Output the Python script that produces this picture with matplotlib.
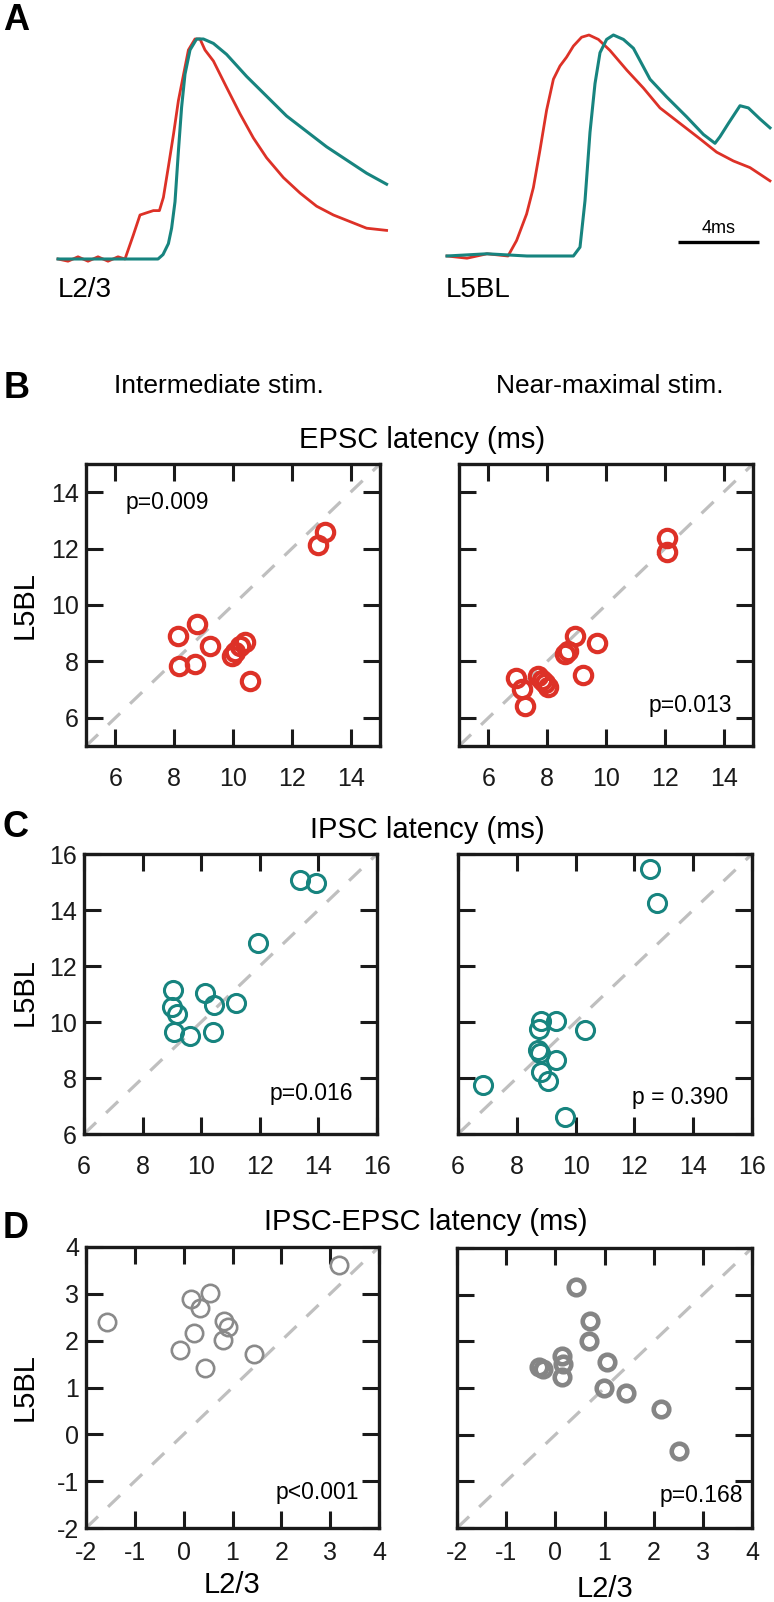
import matplotlib
matplotlib.use("Agg")
import matplotlib.pyplot as plt

plt.rcParams['font.family'] = ['Liberation Sans', 'DejaVu Sans']
plt.rcParams['lines.scale_dashes'] = False

W, H = 774, 1602

RED = '#DD3127'
TEAL = '#17847F'
GREY = '#8A8A8A'
DASH = '#BFBFBF'

# ---------------- Panel A traces (time in ms, normalised amplitude) ----------------
l23_red_t = [0, 0.5, 1.0, 1.5, 2.0, 2.5, 3.0, 3.35, 3.77, 4.1, 4.43, 4.77, 5.07, 5.27, 5.52, 5.78, 6.02, 6.28, 6.52,
             6.85, 7.1, 7.35, 7.77, 8.43, 9.1, 9.77, 10.43, 11.27, 12.1, 12.93, 13.77, 14.6, 15.43, 16.43]
l23_red_a = [0, -0.01, 0.01, -0.01, 0.01, -0.01, 0.01, 0, 0.11, 0.20, 0.21, 0.22, 0.22, 0.28, 0.42, 0.57, 0.72, 0.84, 0.95,
             1.0, 1.0, 0.95, 0.90, 0.78, 0.66, 0.55, 0.46, 0.37, 0.30, 0.24, 0.20, 0.17, 0.14, 0.13]
l23_teal_t = [0, 5.0, 5.25, 5.52, 5.68, 5.85, 6.02, 6.18, 6.35, 6.6, 6.93, 7.27, 7.77, 8.43, 9.43, 10.43, 11.43,
              12.43, 13.43, 14.43, 15.43, 16.43]
l23_teal_a = [0, 0, 0.02, 0.07, 0.14, 0.26, 0.49, 0.69, 0.84, 0.95, 1.0, 1.0, 0.98, 0.93, 0.83, 0.74, 0.65,
              0.58, 0.51, 0.45, 0.39, 0.34]

l5_red_t = [0, 1.0, 2.0, 3.05, 3.48, 3.98, 4.32, 4.65, 4.98, 5.32, 5.65, 5.98, 6.32, 6.73, 7.1, 7.57, 8.15, 9.0,
            9.82, 10.65, 11.65, 12.65, 13.48, 14.32, 15.15, 16.15]
l5_red_a = [0, -0.01, 0.01, 0, 0.07, 0.19, 0.31, 0.48, 0.66, 0.80, 0.86, 0.90, 0.95, 0.99, 1.0, 0.98, 0.93, 0.84,
            0.76, 0.67, 0.60, 0.53, 0.47, 0.43, 0.40, 0.34]
l5_teal_t = [0, 2.0, 4.0, 6.32, 6.65, 6.9, 7.15, 7.4, 7.65, 7.98, 8.32, 8.82, 9.32, 10.15, 10.98, 11.98, 12.82,
             13.4, 13.65, 14.07, 14.65, 15.07, 15.65, 16.15]
l5_teal_a = [0, 0.01, 0, 0, 0.04, 0.25, 0.56, 0.78, 0.92, 0.98, 1.0, 0.98, 0.94, 0.80, 0.72, 0.63, 0.55,
             0.51, 0.54, 0.60, 0.68, 0.67, 0.62, 0.58]

# ---------------- Scatter data ----------------
epsc_int_l23 = [8.13, 8.77, 8.16, 8.71, 9.22, 9.97, 10.07, 10.24, 10.41, 10.58, 12.90, 13.13]
epsc_int_l5 = [8.89, 9.31, 7.83, 7.90, 8.53, 8.18, 8.35, 8.55, 8.70, 7.30, 12.14, 12.60]
epsc_max_l23 = [6.94, 7.14, 7.24, 7.69, 7.82, 7.92, 8.02, 8.62, 8.72, 8.95, 9.22, 9.69, 12.07, 12.07]
epsc_max_l5 = [7.40, 7.01, 6.41, 7.47, 7.35, 7.22, 7.10, 8.25, 8.36, 8.89, 7.51, 8.67, 12.38, 11.89]

ipsc_int_l23 = [13.38, 13.92, 11.95, 9.04, 9.02, 9.16, 9.08, 9.61, 10.13, 10.44, 10.39, 11.18]
ipsc_int_l5 = [15.08, 14.96, 12.82, 11.15, 10.53, 10.29, 9.66, 9.50, 11.03, 10.59, 9.66, 10.67]
ipsc_max_l23 = [12.53, 12.76, 8.84, 9.35, 8.76, 10.32, 8.73, 8.78, 9.35, 8.84, 9.07, 6.85, 9.64]
ipsc_max_l5 = [15.48, 14.25, 10.02, 10.05, 9.74, 9.72, 9.00, 8.91, 8.65, 8.23, 7.91, 7.75, 6.62]

diff_int_l23 = [-1.56, -0.08, 0.21, 0.43, 0.80, 0.83, 0.90, 1.44, 0.15, 0.33, 0.53, 3.18]
diff_int_l5 = [2.39, 1.80, 2.17, 1.42, 2.01, 2.43, 2.30, 1.71, 2.88, 2.70, 3.02, 3.62]
diff_max_l23 = [0.71, 0.69, 1.05, 0.99, 1.43, 2.15, 2.51, -0.34, -0.26, 0.13, 0.15, 0.13, 0.42]
diff_max_l5 = [2.43, 2.01, 1.55, 1.01, 0.89, 0.55, -0.36, 1.44, 1.41, 1.69, 1.51, 1.23, 3.17]

epsc_ticks = [6, 8, 10, 12, 14]
ipsc_ticks = [6, 8, 10, 12, 14, 16]
diff_ticks = [-2, -1, 0, 1, 2, 3, 4]

fig = plt.figure(figsize=(W / 100, H / 100), dpi=100)


def rect(x0, y0, x1, y1):
    return [x0 / W, 1 - y1 / H, (x1 - x0) / W, (y1 - y0) / H]


def ft(x, y, s, **kw):
    fig.text(x / W, 1 - y / H, s, **kw)


# ---- Panel A ----
axA1 = fig.add_axes(rect(58, 39, 387, 259))
axA1.set_xlim(0, 16.45); axA1.set_ylim(0, 1); axA1.axis('off')
axA1.plot(l23_red_t, l23_red_a, color=RED, lw=2.0, clip_on=False, solid_joinstyle='round')
axA1.plot(l23_teal_t, l23_teal_a, color=TEAL, lw=2.2, clip_on=False, solid_joinstyle='round')

axA2 = fig.add_axes(rect(447, 35, 770, 256))
axA2.set_xlim(0, 16.15); axA2.set_ylim(0, 1); axA2.axis('off')
axA2.plot(l5_red_t, l5_red_a, color=RED, lw=2.0, clip_on=False, solid_joinstyle='round')
axA2.plot(l5_teal_t, l5_teal_a, color=TEAL, lw=2.2, clip_on=False, solid_joinstyle='round')
axA2.plot([11.55, 15.6], [0.063, 0.063], color='black', lw=2.4, clip_on=False, solid_capstyle='butt')
axA2.text((11.55 + 15.6) / 2, 0.085, '4ms', ha='center', va='bottom', fontsize=13)

ft(3, 30, 'A', fontsize=26, fontweight='bold', ha='left', va='baseline')
ft(58, 297, 'L2/3', fontsize=20, ha='left', va='baseline')
ft(446, 297, 'L5BL', fontsize=20, ha='left', va='baseline')

# ---- Scatter panels ----


def scatter_panel(r, lim, ticks, xs, ys, color, ms, mew, ptxt, ppos, pha, ylabels, xpad):
    ax = fig.add_axes(rect(*r))
    ax.plot(lim, lim, color=DASH, lw=2.3, dashes=(12, 10), zorder=1, solid_capstyle='butt',
            dash_capstyle='butt')
    ax.plot(xs, ys, 'o', mfc='none', mec=color, ms=ms, mew=mew, zorder=3, clip_on=False)
    ax.set_xlim(lim); ax.set_ylim(lim)
    ax.set_xticks(ticks); ax.set_yticks(ticks)
    ax.set_xticklabels([str(t) for t in ticks])
    ax.set_yticklabels([str(t) for t in ticks])
    ax.tick_params(direction='in', length=12.5, width=2.2, top=True, right=True,
                   labelsize=18, colors='#1a1a1a')
    ax.tick_params(axis='x', pad=xpad)
    ax.tick_params(axis='y', pad=5, labelleft=ylabels)
    for s in ax.spines.values():
        s.set_linewidth(2.4)
        s.set_color('#1a1a1a')
    ax.text(ppos[0], ppos[1], ptxt, transform=ax.transAxes, ha=pha, va='center', fontsize=16.5)
    return ax


scatter_panel((86, 464, 380, 746), (5, 15), epsc_ticks, epsc_int_l23, epsc_int_l5, RED, 12.5, 3.0,
              'p=0.009', (0.133, 0.862), 'left', True, 15)
scatter_panel((459, 464, 753, 746), (5, 15), epsc_ticks, epsc_max_l23, epsc_max_l5, RED, 12.5, 3.0,
              'p=0.013', (0.929, 0.142), 'right', False, 15)
scatter_panel((84, 854, 377, 1134), (6, 16), ipsc_ticks, ipsc_int_l23, ipsc_int_l5, TEAL, 13.0, 2.2,
              'p=0.016', (0.918, 0.146), 'right', True, 15)
scatter_panel((458, 854, 752, 1134), (6, 16), ipsc_ticks, ipsc_max_l23, ipsc_max_l5, TEAL, 13.0, 2.2,
              'p = 0.390', (0.918, 0.132), 'right', False, 15)
scatter_panel((86, 1247, 379, 1528), (-2, 4), diff_ticks, diff_int_l23, diff_int_l5, GREY, 12.5, 1.9,
              'p<0.001', (0.932, 0.128), 'right', True, 9.5)
scatter_panel((457, 1248, 752, 1528), (-2, 4), diff_ticks, diff_max_l23, diff_max_l5, '#858585', 11.2, 3.3,
              'p=0.168', (0.969, 0.117), 'right', False, 9.5)

# ---- Labels ----
ft(4, 398, 'B', fontsize=26, fontweight='bold', ha='left', va='baseline')
ft(3, 837, 'C', fontsize=26, fontweight='bold', ha='left', va='baseline')
ft(3, 1238, 'D', fontsize=26, fontweight='bold', ha='left', va='baseline')

ft(219, 393, 'Intermediate stim.', fontsize=19, ha='center', va='baseline')
ft(610, 393, 'Near-maximal stim.', fontsize=19, ha='center', va='baseline')

ft(422, 448, 'EPSC latency (ms)', fontsize=21, ha='center', va='baseline')
ft(427, 838, 'IPSC latency (ms)', fontsize=21, ha='center', va='baseline')
ft(426, 1230, 'IPSC-EPSC latency (ms)', fontsize=21, ha='center', va='baseline')

for yc in (605, 992, 1387):
    ft(25, yc, 'L5BL', fontsize=21, rotation=90, ha='center', va='center')

ft(232, 1593, 'L2/3', fontsize=21, ha='center', va='baseline')
ft(605, 1597, 'L2/3', fontsize=21, ha='center', va='baseline')

fig.savefig('out.png', dpi=100)
